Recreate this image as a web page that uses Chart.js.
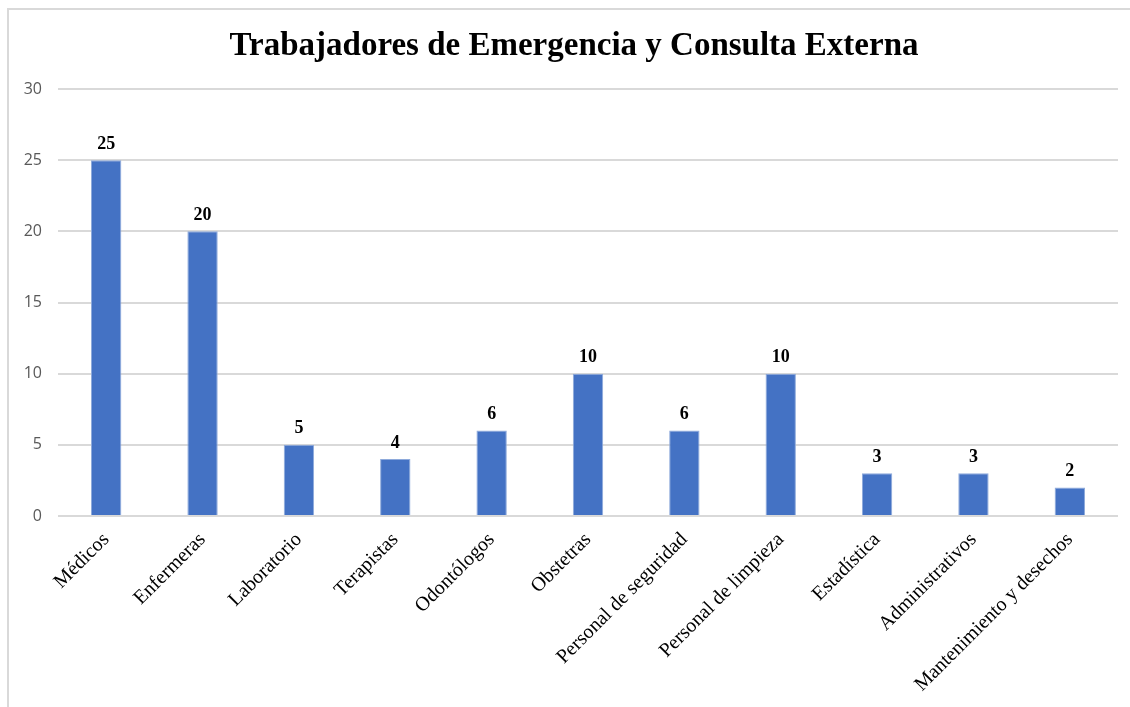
<!DOCTYPE html>
<html>
<head>
<meta charset="utf-8">
<script src="https://cdn.jsdelivr.net/npm/chart.js@4.4.1/dist/chart.umd.min.js"></script>
<style>
  html, body { margin: 0; padding: 0; background: #ffffff; }
  #wrap { position: relative; width: 1130px; height: 707px; }
  #frame {
    position: absolute; left: 7px; top: 8px; right: 0; bottom: 0;
    border-left: 2px solid #d9d9d9; border-top: 2px solid #d9d9d9;
  }
  canvas { position: absolute; left: 0; top: 0; }
</style>
</head>
<body>
<div id="wrap">
  <div id="frame"></div>
  <canvas id="chart" width="1130" height="707"></canvas>
</div>
<script>
const categories = [
  'Médicos', 'Enfermeras', 'Laboratorio', 'Terapistas', 'Odontólogos', 'Obstetras',
  'Personal de seguridad', 'Personal de limpieza', 'Estadística', 'Administrativos',
  'Mantenimiento y desechos'
];
const workers = [25, 20, 5, 4, 6, 10, 6, 10, 3, 3, 2];
const yTicks = [0, 5, 10, 15, 20, 25, 30];
const chartTitle = 'Trabajadores de Emergencia y Consulta Externa';

const serif = "'Liberation Serif', 'Times New Roman', serif";

// Chart heading, centred on the frame rather than the plot
const frameTitle = {
  id: 'frameTitle',
  afterDraw(chart) {
    const ctx = chart.ctx;
    ctx.save();
    ctx.font = "bold 33px " + serif;
    ctx.fillStyle = '#000000';
    ctx.textAlign = 'center';
    ctx.textBaseline = 'middle';
    ctx.fillText(chartTitle, 574, 46);
    ctx.restore();
  }
};

// Value labels drawn above each bar
const barValueLabels = {
  id: 'barValueLabels',
  afterDatasetsDraw(chart) {
    const ctx = chart.ctx;
    const meta = chart.getDatasetMeta(0);
    ctx.save();
    ctx.font = "bold 18px " + serif;
    ctx.fillStyle = '#000000';
    ctx.textAlign = 'center';
    ctx.textBaseline = 'bottom';
    meta.data.forEach((bar, i) => {
      ctx.fillText(String(chart.data.datasets[0].data[i]), bar.x, bar.y - 7);
    });
    ctx.restore();
  }
};

new Chart(document.getElementById('chart'), {
  type: 'bar',
  data: {
    labels: categories,
    datasets: [{
      data: workers,
      backgroundColor: '#4472c4',
      borderColor: '#8eaadb',
      borderWidth: 1,
      barPercentage: 0.63,
      categoryPercentage: 0.5
    }]
  },
  options: {
    responsive: false,
    animation: false,
    layout: { padding: { left: 8, right: 12, top: 89, bottom: 0 } },
    plugins: {
      legend: { display: false },
      tooltip: { enabled: false },
      title: { display: false }
    },
    scales: {
      x: {
        grid: { display: false, drawTicks: false },
        border: { display: false },
        ticks: {
          color: '#000000',
          font: { family: serif, size: 20 },
          minRotation: 45,
          maxRotation: 45,
          autoSkip: false,
          padding: 12
        },
        afterFit(scale) { scale.height = 191; }
      },
      y: {
        min: 0,
        max: 30,
        afterBuildTicks(scale) { scale.ticks = yTicks.map(v => ({ value: v })); },
        grid: { color: '#d9d9d9', lineWidth: 2, drawTicks: false },
        border: { display: false },
        ticks: {
          color: '#595959',
          font: { family: "'Open Sans', 'Liberation Sans', sans-serif", size: 16 },
          padding: 16
        },
        afterFit(scale) { scale.width = 50; }
      }
    }
  },
  plugins: [barValueLabels, frameTitle]
});
</script>
</body>
</html>
